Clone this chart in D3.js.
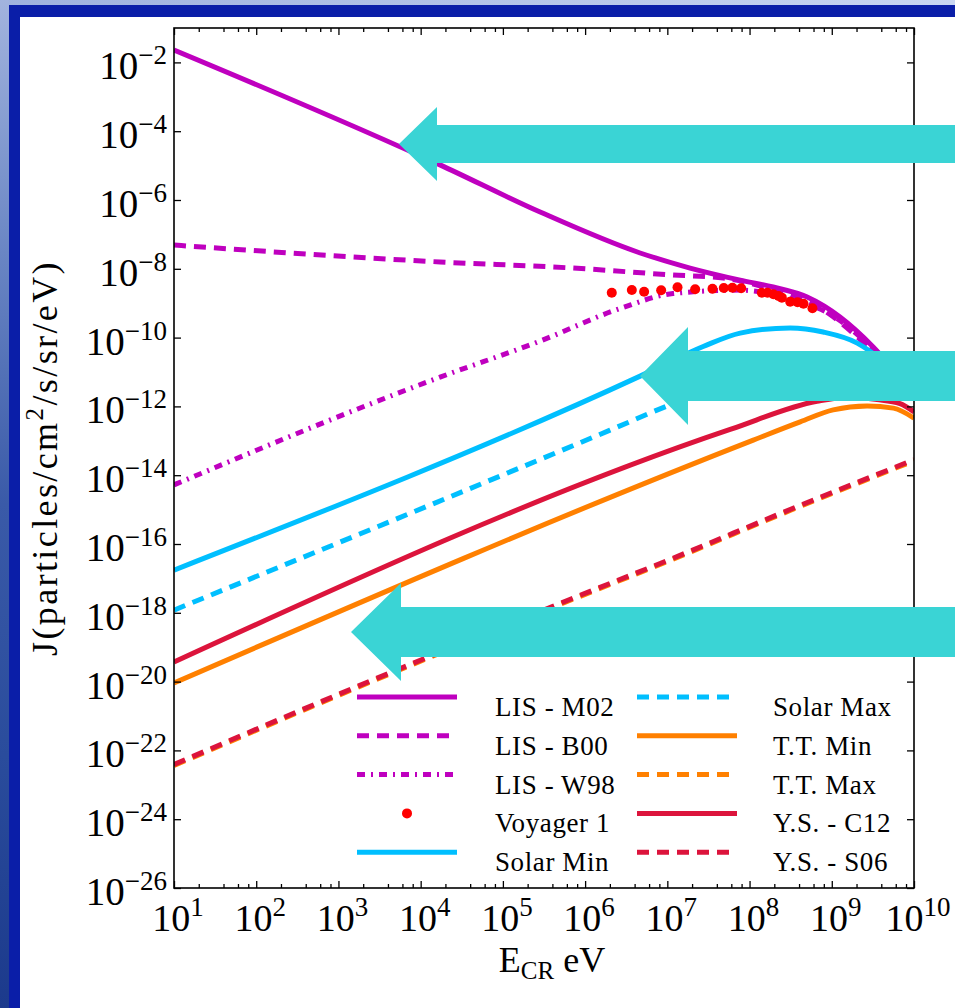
<!DOCTYPE html>
<html>
<head>
<meta charset="utf-8">
<script src="https://cdn.jsdelivr.net/npm/d3@7"></script>
<style>
  html, body { margin: 0; padding: 0; background: #ffffff; }
  svg { display: block; }
  svg text { font-family: "Liberation Serif", "Tinos", "DejaVu Serif", serif; fill: #000; }
</style>
</head>
<body>
<svg id="chart" width="955" height="1008" font-family="Liberation Serif, DejaVu Serif, serif"></svg>
<script>
// ---- Cosmic-ray proton spectra (energy in eV, flux J in particles/cm^2/s/sr/eV) ----
const lisM02E = [1e1, 1.72e4, 2.84e5, 4.67e6, 1.89e7, 7.69e7, 1.94e8, 5.02e8, 1.26e9, 3.19e9, 1e10];
const lisM02J = [2.29e-2, 1.05e-5, 4.47e-7, 2.88e-8, 1.05e-8, 4.68e-9, 2.95e-9, 1.51e-9, 3.98e-10, 5.37e-11, 2.14e-12];

const lisB00E = [1e1, 1.72e4, 7.14e5, 1.17e7, 4.79e7, 1.94e8, 7.94e8, 2.04e9, 3.98e9, 1e10];
const lisB00J = [4.90e-8, 1.58e-8, 1.05e-8, 6.61e-9, 5.37e-9, 2.40e-9, 6.31e-10, 1.05e-10, 2.24e-11, 1.91e-12];

const lisW98E = [1e1, 1.72e4, 2.84e5, 2.69e6, 1.17e7, 7.69e7, 3.16e8, 1e9, 2.51e9, 1e10];
const lisW98J = [5.25e-15, 7.08e-12, 7.94e-11, 7.08e-10, 1.91e-9, 2.40e-9, 1.32e-9, 4.47e-10, 7.94e-11, 1.78e-12];

const voyagerE = [2.11e6, 3.70e6, 5.22e6, 8.41e6, 1.33e7, 2.18e7, 3.54e7, 4.86e7, 6.19e7, 7.91e7,
                  1.41e8, 1.65e8, 1.95e8, 2.25e8, 2.47e8, 3.12e8, 3.83e8, 4.53e8, 5.82e8];
const voyagerJ = [2.02e-9, 2.42e-9, 2.16e-9, 2.37e-9, 2.90e-9, 2.54e-9, 2.64e-9, 2.77e-9, 2.82e-9, 2.71e-9,
                  2.02e-9, 2.02e-9, 1.82e-9, 1.62e-9, 1.45e-9, 1.11e-9, 1.06e-9, 9.66e-10, 7.11e-10];

const solarMinE = [1e1, 4.67e6, 2.73e7, 7.69e7, 3.12e8, 7.85e8, 2.04e9, 4.47e9, 1e10];
const solarMinJ = [1.74e-17, 7.59e-12, 5.50e-11, 1.35e-10, 1.91e-10, 1.45e-10, 6.92e-11, 1.78e-11, 2.51e-12];

const solarMaxE = [1e1, 2.01e6, 1.07e7, 3.98e7, 2.0e8, 7.94e8, 2.51e9, 1e10];
const solarMaxJ = [1.20e-18, 2.04e-13, 1.10e-12, 3.55e-12, 1.0e-11, 1.41e-11, 1.0e-11, 2.0e-12];

const ttMinE = [1e1, 1.11e8, 4.13e8, 1.04e9, 2.69e9, 5.62e9, 1e10];
const ttMinJ = [9.12e-21, 1.05e-13, 3.55e-13, 7.94e-13, 1.02e-12, 8.91e-13, 4.57e-13];

const ttMaxE = [1e1, 1.55e3, 6.38e5, 1.05e7, 3.16e8, 1e10];
const ttMaxJ = [3.63e-23, 6.17e-21, 2.24e-18, 3.24e-17, 9.55e-16, 2.63e-14];

const ysC12E = [1e1, 5.81e7, 6.61e8, 1.58e9, 3.55e9, 6.76e9, 1e10];
const ysC12J = [3.72e-20, 2.14e-13, 1.41e-12, 1.86e-12, 1.58e-12, 1.20e-12, 6.92e-13];

const ysS06E = [1e1, 1.55e3, 6.38e5, 1.05e7, 3.16e8, 1e10];
const ysS06J = [3.89e-23, 6.61e-21, 2.40e-18, 3.47e-17, 1.02e-15, 2.82e-14];

// ---- Axis ticks ----
const xTickExponents = [1, 2, 3, 4, 5, 6, 7, 8, 9, 10];
const xMinorMultipliers = [2, 4, 6, 8];
const yTickExponents = [-26, -24, -22, -20, -18, -16, -14, -12, -10, -8, -6, -4, -2];

// ---- Legend ----
const legendLabels = ["LIS - M02", "LIS - B00", "LIS - W98", "Voyager 1", "Solar Min",
                      "Solar Max", "T.T. Min", "T.T. Max", "Y.S. - C12", "Y.S. - S06"];

const MAGENTA = "#bf00bf", SKY = "#00bfff", ORANGE = "#ff8000", CRIMSON = "#dc143c", RED = "#ff0000";
const DASH = "12,8", DASHDOT = "8,6,2,6";
const SERIF = "'Liberation Serif', 'DejaVu Serif', serif";

const series = [
  { E: lisM02E, J: lisM02J, color: MAGENTA, dash: null },
  { E: lisB00E, J: lisB00J, color: MAGENTA, dash: DASH },
  { E: lisW98E, J: lisW98J, color: MAGENTA, dash: DASHDOT },
  { E: solarMinE, J: solarMinJ, color: SKY, dash: null },
  { E: solarMaxE, J: solarMaxJ, color: SKY, dash: DASH },
  { E: ttMinE, J: ttMinJ, color: ORANGE, dash: null },
  { E: ttMaxE, J: ttMaxJ, color: ORANGE, dash: DASH },
  { E: ysC12E, J: ysC12J, color: CRIMSON, dash: null },
  { E: ysS06E, J: ysS06J, color: CRIMSON, dash: DASH }
];

const legendStyles = [
  { color: MAGENTA, dash: null }, { color: MAGENTA, dash: DASH }, { color: MAGENTA, dash: DASHDOT },
  { color: RED, dot: true }, { color: SKY, dash: null },
  { color: SKY, dash: DASH }, { color: ORANGE, dash: null }, { color: ORANGE, dash: DASH },
  { color: CRIMSON, dash: null }, { color: CRIMSON, dash: DASH }
];

const svg = d3.select("#chart");
const W = 955, H = 1008;
const M = { left: 174, top: 28, right: 914, bottom: 888 };

// ---- Slide background and frame ----
const defs = svg.append("defs");
const gTop = defs.append("linearGradient").attr("id", "bgTop").attr("x1", 0).attr("x2", 1).attr("y1", 0).attr("y2", 0);
gTop.append("stop").attr("offset", 0).attr("stop-color", "#9fb2de");
gTop.append("stop").attr("offset", 1).attr("stop-color", "#c9d6f2");
const gLeft = defs.append("linearGradient").attr("id", "bgLeft").attr("x1", 0).attr("x2", 0).attr("y1", 0).attr("y2", 1);
gLeft.append("stop").attr("offset", 0).attr("stop-color", "#a2b4de");
gLeft.append("stop").attr("offset", 0.25).attr("stop-color", "#6a86c4");
gLeft.append("stop").attr("offset", 0.5).attr("stop-color", "#3a5aa8");
gLeft.append("stop").attr("offset", 0.75).attr("stop-color", "#2a4c9c");
gLeft.append("stop").attr("offset", 1).attr("stop-color", "#1c3a8c");

svg.append("rect").attr("x", 0).attr("y", 0).attr("width", W).attr("height", 6).attr("fill", "url(#bgTop)");
svg.append("rect").attr("x", 0).attr("y", 0).attr("width", 9).attr("height", H).attr("fill", "url(#bgLeft)");
svg.append("rect").attr("x", 9).attr("y", 5).attr("width", W - 9).attr("height", 12).attr("fill", "#0a1ea8");
svg.append("rect").attr("x", 9).attr("y", 5).attr("width", 11).attr("height", H - 5).attr("fill", "#0a1ea8");
svg.append("rect").attr("x", 20).attr("y", 17).attr("width", W - 20).attr("height", H - 17).attr("fill", "#ffffff");

// ---- Scales ----
const x = d3.scaleLog().domain([1e1, 1e10]).range([M.left, M.right]);
const y = d3.scaleLog().domain([1e-26, 1e-1]).range([M.bottom, M.top]);

const plot = svg.append("g");
plot.append("clipPath").attr("id", "plotClip")
  .append("rect").attr("x", M.left).attr("y", M.top)
  .attr("width", M.right - M.left).attr("height", M.bottom - M.top);

const curves = plot.append("g").attr("clip-path", "url(#plotClip)");
const line = d3.line().x(d => x(d[0])).y(d => y(d[1])).curve(d3.curveMonotoneX);

function drawSeries(s) {
  curves.append("path")
    .attr("d", line(s.E.map((e, i) => [e, s.J[i]])))
    .attr("fill", "none")
    .attr("stroke", s.color)
    .attr("stroke-width", 5)
    .attr("stroke-dasharray", s.dash)
    .attr("stroke-linecap", "butt");
}

// LIS models, then Voyager data, then modulated spectra
series.slice(0, 3).forEach(drawSeries);
curves.selectAll("circle.voyager")
  .data(voyagerE.map((e, i) => [e, voyagerJ[i]]))
  .join("circle")
  .attr("class", "voyager")
  .attr("cx", d => x(d[0])).attr("cy", d => y(d[1]))
  .attr("r", 5).attr("fill", RED);
series.slice(3).forEach(drawSeries);

// ---- Axes (ticks point inward on all four sides) ----
const xMajor = xTickExponents.map(p => Math.pow(10, p));
const xMinor = [];
xTickExponents.slice(0, -1).forEach(p => xMinorMultipliers.forEach(m => xMinor.push(m * Math.pow(10, p))));
const yMajor = yTickExponents.map(p => Math.pow(10, p));

function styleAxis(g) {
  g.select(".domain").remove();
  g.selectAll(".tick line").attr("stroke", "#000").attr("stroke-width", 1.3);
  g.selectAll(".tick text").remove();
}

plot.append("g").attr("transform", `translate(0,${M.bottom})`)
  .call(d3.axisBottom(x).tickValues(xMajor).tickSize(-7).tickSizeOuter(0)).call(styleAxis);
plot.append("g").attr("transform", `translate(0,${M.bottom})`)
  .call(d3.axisBottom(x).tickValues(xMinor).tickSize(-4).tickSizeOuter(0)).call(styleAxis);
plot.append("g").attr("transform", `translate(0,${M.top})`)
  .call(d3.axisTop(x).tickValues(xMajor).tickSize(-7).tickSizeOuter(0)).call(styleAxis);
plot.append("g").attr("transform", `translate(0,${M.top})`)
  .call(d3.axisTop(x).tickValues(xMinor).tickSize(-4).tickSizeOuter(0)).call(styleAxis);
plot.append("g").attr("transform", `translate(${M.left},0)`)
  .call(d3.axisLeft(y).tickValues(yMajor).tickSize(-7).tickSizeOuter(0)).call(styleAxis);
plot.append("g").attr("transform", `translate(${M.right},0)`)
  .call(d3.axisRight(y).tickValues(yMajor).tickSize(-7).tickSizeOuter(0)).call(styleAxis);

plot.append("rect")
  .attr("x", M.left).attr("y", M.top)
  .attr("width", M.right - M.left).attr("height", M.bottom - M.top)
  .attr("fill", "none").attr("stroke", "#000").attr("stroke-width", 1.6);

// ---- Tick labels as powers of ten ----
function powerLabel(g, exp, anchor, size) {
  const t = g.append("text").attr("text-anchor", anchor)
    .attr("font-family", SERIF).style("font-size", size + "px");
  t.append("tspan").text("10");
  t.append("tspan").attr("dy", -15).style("font-size", Math.round(size * 0.7) + "px")
    .text(exp < 0 ? "\u2212" + Math.abs(exp) : String(exp));
  return t;
}
xTickExponents.forEach(p => {
  const g = plot.append("g").attr("transform", `translate(${x(Math.pow(10, p)) + 4},${M.bottom + 43})`);
  powerLabel(g, p, "middle", 38);
});
yTickExponents.forEach(p => {
  const g = plot.append("g").attr("transform", `translate(${M.left - 7},${y(Math.pow(10, p)) + 17})`);
  powerLabel(g, p, "end", 39);
});

// ---- Axis titles ----
const xt = svg.append("text")
  .attr("x", (M.left + M.right) / 2 + 8).attr("y", M.bottom + 84)
  .attr("text-anchor", "middle").attr("font-family", SERIF).style("font-size", "36px");
xt.append("tspan").text("E");
xt.append("tspan").attr("dy", 7).style("font-size", "25px").text("CR");
xt.append("tspan").attr("dy", -7).text(" eV");

const yt = svg.append("text")
  .attr("transform", `translate(57,${(M.top + M.bottom) / 2 + 0}) rotate(-90)`)
  .attr("text-anchor", "middle").attr("font-family", SERIF)
  .style("font-size", "36px").style("letter-spacing", "2.4px");
yt.append("tspan").text("J(particles/cm");
yt.append("tspan").attr("dy", -14).style("font-size", "25px").text("2");
yt.append("tspan").attr("dy", 14).text("/s/sr/eV)");

// ---- Legend (two columns, five rows) ----
const legend = svg.append("g");
const colHandleX = [357, 637], colTextX = [495, 773];
const rowY0 = 697, rowStep = 38.8, handleLen = 100;
legendLabels.forEach((label, i) => {
  const col = Math.floor(i / 5), row = i % 5;
  const yy = rowY0 + row * rowStep;
  const st = legendStyles[i];
  if (st.dot) {
    legend.append("circle").attr("cx", colHandleX[col] + handleLen / 2).attr("cy", yy)
      .attr("r", 5).attr("fill", st.color);
  } else {
    legend.append("line")
      .attr("x1", colHandleX[col]).attr("x2", colHandleX[col] + handleLen)
      .attr("y1", yy).attr("y2", yy)
      .attr("stroke", st.color).attr("stroke-width", 5)
      .attr("stroke-dasharray", st.dash);
  }
  legend.append("text").attr("x", colTextX[col]).attr("y", yy + 19)
    .attr("font-family", SERIF)
    .style("font-size", "27px").style("letter-spacing", "0.6px").text(label);
});

// ---- Slide call-out arrows pointing left onto the curves ----
const arrows = [
  { tip: [399, 144], headBack: 437, headHalf: 37, shaftHalf: 19 },
  { tip: [640, 376], headBack: 688, headHalf: 49, shaftHalf: 25 },
  { tip: [351, 632], headBack: 401, headHalf: 49, shaftHalf: 25 }
];
arrows.forEach(a => {
  const [tx, ty] = a.tip;
  const pts = [
    [tx, ty], [a.headBack, ty - a.headHalf], [a.headBack, ty - a.shaftHalf],
    [W, ty - a.shaftHalf], [W, ty + a.shaftHalf], [a.headBack, ty + a.shaftHalf],
    [a.headBack, ty + a.headHalf]
  ];
  svg.append("polygon").attr("points", pts.map(p => p.join(",")).join(" ")).attr("fill", "#3ad4d5");
});
</script>
</body>
</html>
